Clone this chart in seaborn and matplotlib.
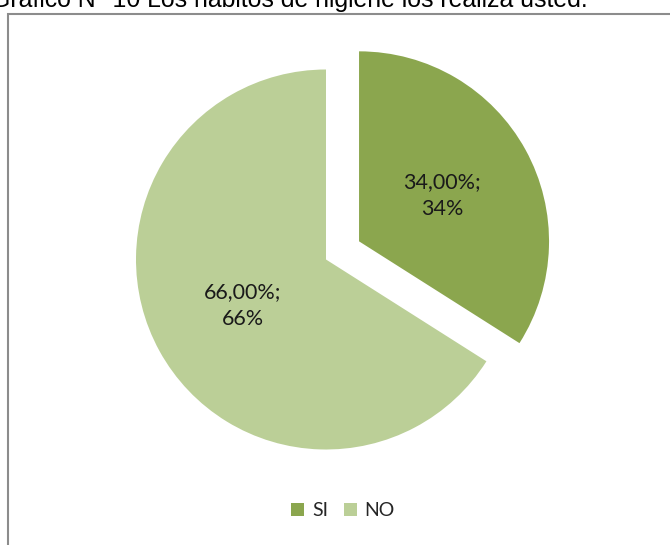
import seaborn as sns
import matplotlib.pyplot as plt
from matplotlib.patches import Patch, Rectangle

# data
categorias = ['SI', 'NO']
porcentajes = [34.0, 66.0]
colores = ['#8ba64e', '#bbcf97']
titulo = 'Gráfico N° 10 Los hábitos de higiene los realiza usted.'

sns.set_theme(style='white')
plt.rcParams['font.family'] = ['Lato', 'DejaVu Sans']

fig = plt.figure(figsize=(6.7, 5.45), dpi=100)
ax = fig.add_axes([0, 0, 1, 1])

def etiqueta(pct):
    return (f'{pct:.2f}%;\n{pct:.0f}%').replace('.', ',')

wedges, textos, autotextos = ax.pie(
    porcentajes, colors=colores, startangle=90, counterclock=False,
    center=(326, 285.5), radius=190, explode=[37.7, 0],
    autopct=etiqueta, pctdistance=0.5,
    textprops={'fontsize': 15.5, 'color': '#1a1a1a', 'linespacing': 1.45},
    wedgeprops={'linewidth': 0})

ax.set_xlim(0, 670)
ax.set_ylim(0, 545)
ax.axis('off')

# titulo (cortado arriba como en la imagen original)
fig.text(588 / 670, (545 - 7) / 545, titulo, ha='right', va='baseline',
         fontsize=17.9, family='Liberation Sans', color='black')

# marco del grafico
fig.add_artist(Rectangle((8 / 670, -0.1), 1, (545 - 13.5) / 545 + 0.1,
                         transform=fig.transFigure, fill=False,
                         edgecolor='#8c8c8c', linewidth=1.5))

handles = [Patch(facecolor=c, edgecolor='none') for c in colores]
fig.legend(handles, categorias, loc='center', ncol=2,
           bbox_to_anchor=(343 / 670, 34 / 545), frameon=False,
           fontsize=14, handlelength=0.67, handleheight=0.67,
           handletextpad=0.4, columnspacing=0.8)

fig.savefig('out.png', dpi=100)
